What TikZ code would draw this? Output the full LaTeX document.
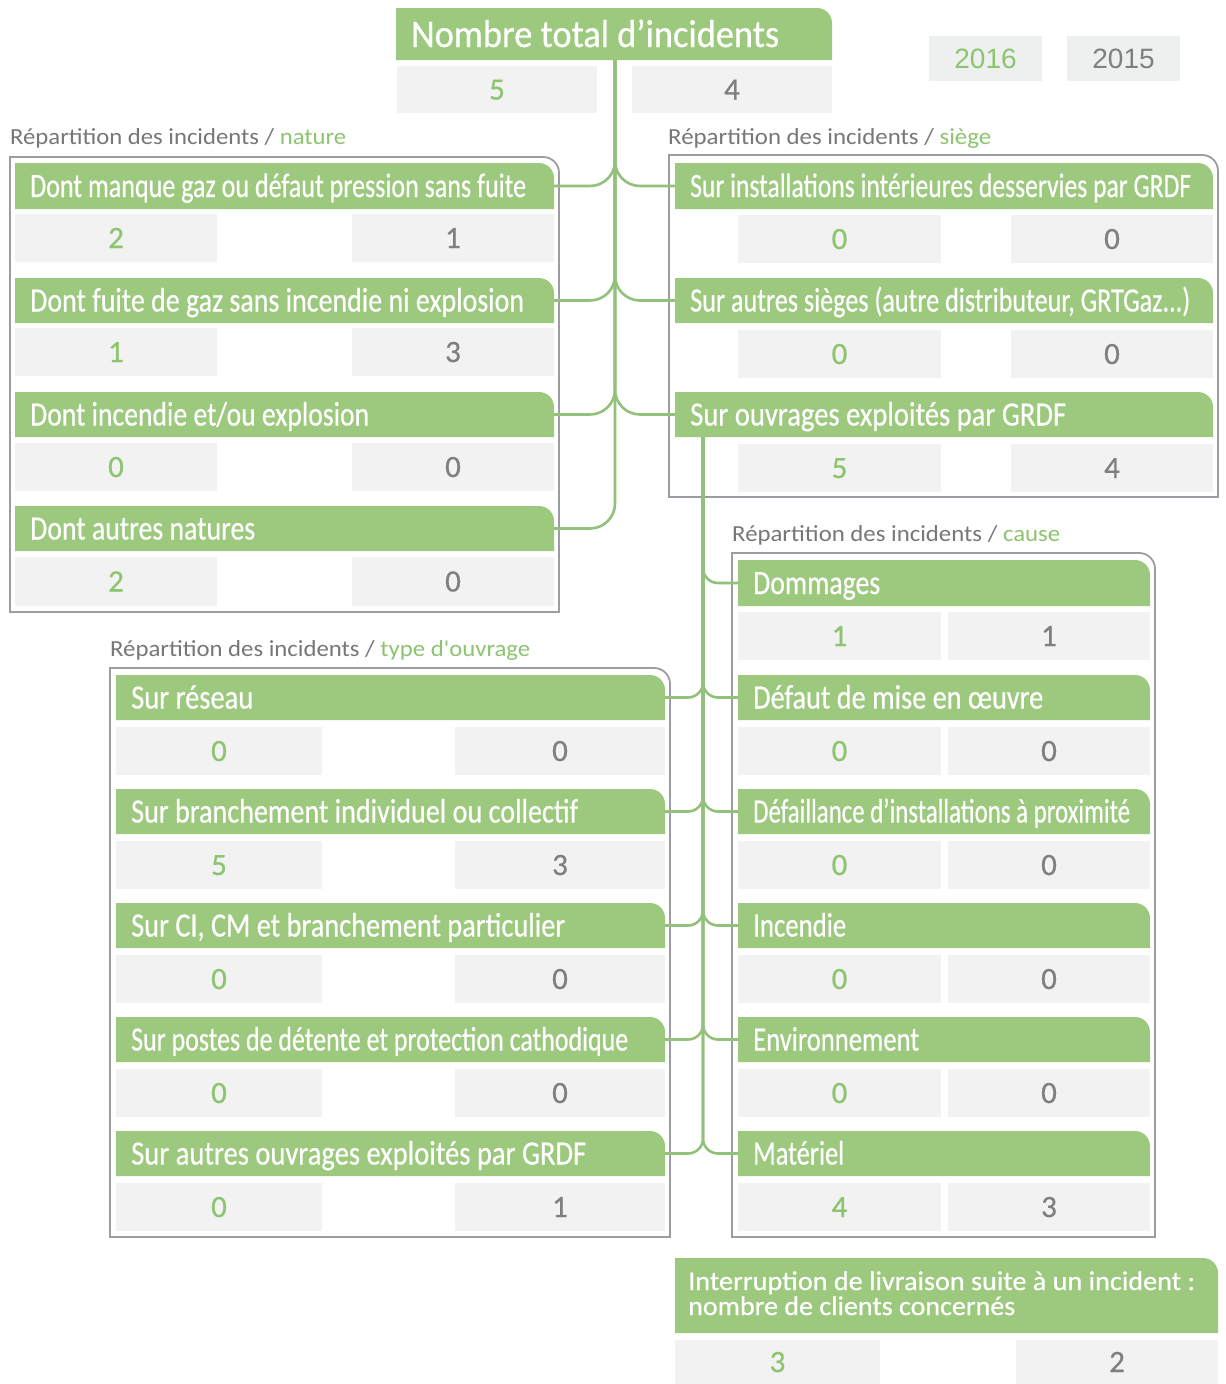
\documentclass[tikz,border=0pt]{standalone}
\usepackage{fontspec}
\setmainfont{Carlito}
\newfontfamily\medfont[FakeBold=0.6]{Carlito}
\newfontfamily\yearfont{Liberation Sans}
\usepackage{graphicx}
\usetikzlibrary{fit}
\definecolor{barfill}{HTML}{9CC97E}
\definecolor{greentxt}{HTML}{8DC46F}
\definecolor{graytxt}{HTML}{7F7F7F}
\definecolor{lbltxt}{HTML}{777777}
\definecolor{cellfill}{HTML}{F2F2F2}
\definecolor{yearfill}{HTML}{EEF0EF}
\definecolor{framecol}{HTML}{9C9CA2}
\definecolor{conncol}{HTML}{93C07B}
\tikzset{
  conn/.style={draw=conncol, line width=2.6pt},
  framec/.style={draw=framecol, line width=1.8pt},
  bartxt/.style={anchor=base west, text=white, inner sep=0pt, font=\medfont\fontsize{34}{38}\selectfont},
  cellbox/.style={fill=cellfill, inner sep=0pt, outer sep=0pt},
  numtxt/.style={anchor=base, inner sep=0pt, font=\medfont\fontsize{31}{34}\selectfont},
  yearbox/.style={fill=yearfill, inner sep=0pt, outer sep=0pt},
  yeartxt/.style={anchor=base, inner sep=0pt, font=\yearfont\fontsize{28}{32}\selectfont},
  lbl/.style={anchor=base west, text=lbltxt, inner sep=0pt, font=\fontsize{23}{26}\selectfont},
  itxt/.style={anchor=base west, text=white, inner sep=0pt, font=\medfont\fontsize{27}{30}\selectfont}
}
\newcommand\mkshape[5]{%
  \node[fit={(#2,#3) (#4,#5)}, inner sep=0pt, outer sep=0pt] (#1) {};
  \fill[barfill] (#1.south west) -- (#1.north west) -- ([xshift=-15pt]#1.north east)
    .. controls ([xshift=-6.7pt]#1.north east) and ([yshift=-6.7pt]#1.north east) .. ([yshift=-15pt]#1.north east)
    -- (#1.south east) -- cycle;}
\newcommand\mkbar[8][]{%
  \mkshape{#2}{#3}{#4}{#5}{#6}
  \node[bartxt,#1] (#2t) at ([xshift=15pt,yshift=-11pt]#2.west) {\resizebox{#8pt}{\height}{#7}};}
\newcommand\mkframe[5]{%
  \node[fit={(#2,#3) (#4,#5)}, inner sep=0pt, outer sep=0pt] (#1) {};
  \draw[framec] (#1.south west) -- (#1.north west) -- ([xshift=-16pt]#1.north east)
    .. controls ([xshift=-7pt]#1.north east) and ([yshift=-7pt]#1.north east) .. ([yshift=-16pt]#1.north east)
    -- (#1.south east) -- cycle;}
\newcommand\mkcell[7]{%
  \node[cellbox, fit={(#2,#3) (#4,#5)}] (#1) {};
  \node[numtxt, text=#7] (#1t) at ([yshift=-10pt]#1.center) {#6};}
\begin{document}
\begin{tikzpicture}[x=1pt,y=-1pt]
\useasboundingbox[fill=white] (0,0) rectangle (1226,1384);

% frames
\mkframe{F1}{10}{157}{559}{612}
\mkframe{F2}{669}{155}{1218}{497}
\mkframe{F3}{732}{553}{1155}{1237}
\mkframe{F4}{110}{668}{670}{1237}

% header
\mkbar[font=\medfont\fontsize{39}{42}\selectfont, yshift=-2pt]{hdr}{396}{8}{832}{60}{Nombre total d’incidents}{368}
\mkcell{h1}{397}{66}{597}{113}{5}{greentxt}
\mkcell{h2}{632}{66}{832}{113}{4}{graytxt}

% years
\node[yearbox, fit={(929,36) (1042,81)}] (yr1) {};
\node[yeartxt, text=greentxt] (yr1t) at ([yshift=-10pt]yr1.center) {2016};
\node[yearbox, fit={(1067,36) (1180,81)}] (yr2) {};
\node[yeartxt, text=graytxt] (yr2t) at ([yshift=-10pt]yr2.center) {2015};

% labels
\node[lbl] (L1) at (10,144) {\resizebox{336pt}{\height}{Répartition des incidents / \textcolor{greentxt}{nature}}};
\node[lbl] (L2) at (668,144) {\resizebox{323pt}{\height}{Répartition des incidents / \textcolor{greentxt}{siège}}};
\node[lbl] (L3) at (732,541) {\resizebox{328pt}{\height}{Répartition des incidents / \textcolor{greentxt}{cause}}};
\node[lbl] (L4) at (110,656) {\resizebox{420pt}{\height}{Répartition des incidents / \textcolor{greentxt}{type d\textquotesingle ouvrage}}};

% nature
\mkbar{n1}{15}{163}{554}{209}{Dont manque gaz ou défaut pression sans fuite}{496}
\mkcell{n1g}{15}{214}{217}{262}{2}{greentxt}
\mkcell{n1a}{352}{214}{554}{262}{1}{graytxt}
\mkbar{n2}{15}{278}{554}{323}{Dont fuite de gaz sans incendie ni explosion}{494}
\mkcell{n2g}{15}{328}{217}{376}{1}{greentxt}
\mkcell{n2a}{352}{328}{554}{376}{3}{graytxt}
\mkbar{n3}{15}{392}{554}{437}{Dont incendie et/ou explosion}{339}
\mkcell{n3g}{15}{443}{217}{491}{0}{greentxt}
\mkcell{n3a}{352}{443}{554}{491}{0}{graytxt}
\mkbar{n4}{15}{506}{554}{551}{Dont autres natures}{225}
\mkcell{n4g}{15}{557}{217}{606}{2}{greentxt}
\mkcell{n4a}{352}{557}{554}{606}{0}{graytxt}

% siege
\mkbar{s1}{675}{163}{1213}{209}{Sur installations intérieures desservies par GRDF}{501}
\mkcell{s1g}{738}{215}{941}{263}{0}{greentxt}
\mkcell{s1a}{1011}{215}{1213}{263}{0}{graytxt}
\mkbar{s2}{675}{278}{1213}{323}{Sur autres sièges (autre distributeur, GRTGaz...)}{500}
\mkcell{s2g}{738}{330}{941}{378}{0}{greentxt}
\mkcell{s2a}{1011}{330}{1213}{378}{0}{graytxt}
\mkbar{s3}{675}{392}{1213}{437}{Sur ouvrages exploités par GRDF}{376}
\mkcell{s3g}{738}{444}{941}{492}{5}{greentxt}
\mkcell{s3a}{1011}{444}{1213}{492}{4}{graytxt}

% cause
\mkbar{c1}{738}{560}{1150}{606}{Dommages}{127}
\mkcell{c1g}{738}{612}{941}{660}{1}{greentxt}
\mkcell{c1a}{948}{612}{1150}{660}{1}{graytxt}
\mkbar{c2}{738}{675}{1150}{720}{Défaut de mise en œuvre}{290}
\mkcell{c2g}{738}{727}{941}{775}{0}{greentxt}
\mkcell{c2a}{948}{727}{1150}{775}{0}{graytxt}
\mkbar{c3}{738}{789}{1150}{834}{Défaillance d’installations à proximité}{377}
\mkcell{c3g}{738}{841}{941}{889}{0}{greentxt}
\mkcell{c3a}{948}{841}{1150}{889}{0}{graytxt}
\mkbar{c4}{738}{903}{1150}{948}{Incendie}{93}
\mkcell{c4g}{738}{955}{941}{1003}{0}{greentxt}
\mkcell{c4a}{948}{955}{1150}{1003}{0}{graytxt}
\mkbar{c5}{738}{1017}{1150}{1062}{Environnement}{166}
\mkcell{c5g}{738}{1069}{941}{1117}{0}{greentxt}
\mkcell{c5a}{948}{1069}{1150}{1117}{0}{graytxt}
\mkbar{c6}{738}{1131}{1150}{1176}{Matériel}{91}
\mkcell{c6g}{738}{1183}{941}{1231}{4}{greentxt}
\mkcell{c6a}{948}{1183}{1150}{1231}{3}{graytxt}

% type d'ouvrage
\mkbar{o1}{116}{675}{665}{720}{Sur réseau}{122}
\mkcell{o1g}{116}{727}{322}{775}{0}{greentxt}
\mkcell{o1a}{455}{727}{665}{775}{0}{graytxt}
\mkbar{o2}{116}{789}{665}{834}{Sur branchement individuel ou collectif}{447}
\mkcell{o2g}{116}{841}{322}{889}{5}{greentxt}
\mkcell{o2a}{455}{841}{665}{889}{3}{graytxt}
\mkbar{o3}{116}{903}{665}{948}{Sur CI, CM et branchement particulier}{434}
\mkcell{o3g}{116}{955}{322}{1003}{0}{greentxt}
\mkcell{o3a}{455}{955}{665}{1003}{0}{graytxt}
\mkbar{o4}{116}{1017}{665}{1062}{Sur postes de détente et protection cathodique}{497}
\mkcell{o4g}{116}{1069}{322}{1117}{0}{greentxt}
\mkcell{o4a}{455}{1069}{665}{1117}{0}{graytxt}
\mkbar{o5}{116}{1131}{665}{1176}{Sur autres ouvrages exploités par GRDF}{455}
\mkcell{o5g}{116}{1183}{322}{1231}{0}{greentxt}
\mkcell{o5a}{455}{1183}{665}{1231}{1}{graytxt}

% interruption
\mkshape{ib}{675}{1258}{1218}{1333}
\node[itxt] (ib1) at (688,1290) {\resizebox{507pt}{\height}{Interruption de livraison suite à un incident :}};
\node[itxt] (ib2) at (688,1315) {\resizebox{327pt}{\height}{nombre de clients concernés}};
\mkcell{ibg}{675}{1340}{880}{1384}{3}{greentxt}
\mkcell{iba}{1016}{1340}{1218}{1384}{2}{graytxt}

% connectors
\coordinate (tr1) at (615,0);
\coordinate (tr2) at (703,0);
\foreach \b in {n1,n2,n3,n4}{\draw[conn, rounded corners=25pt] (hdr.south -| tr1) |- (\b.east);}
\foreach \b in {s1,s2,s3}{\draw[conn, rounded corners=25pt] (hdr.south -| tr1) |- (\b.west);}
\foreach \b in {c1,c2,c3,c4,c5,c6}{\draw[conn, rounded corners=15pt] (s3.south -| tr2) |- (\b.west);}
\foreach \b in {o1,o2,o3,o4,o5}{\draw[conn, rounded corners=15pt] (s3.south -| tr2) |- (\b.east);}
\end{tikzpicture}
\end{document}
